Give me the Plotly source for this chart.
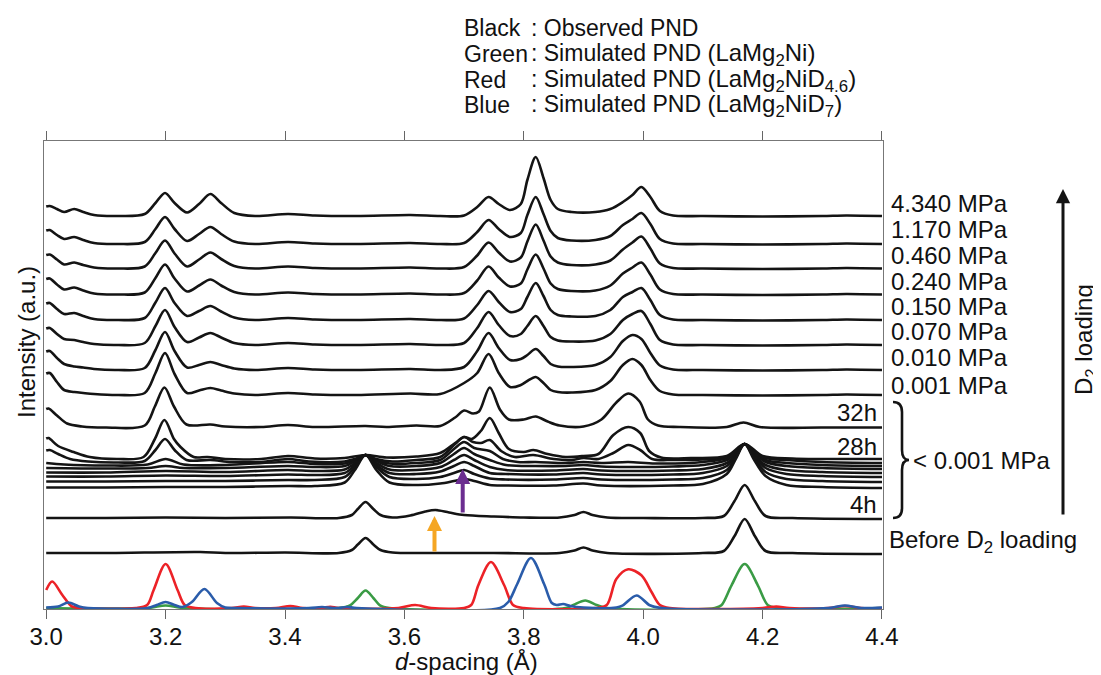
import plotly.graph_objects as go

# ---------------- data ----------------
# heights are in a.u. above each pattern's own baseline; offsets stack patterns
D_P = [3.000, 3.006, 3.018, 3.030, 3.047, 3.062, 3.08, 3.12, 3.165, 3.183, 3.199, 3.215,
       3.236, 3.256, 3.275, 3.293, 3.315, 3.35, 3.405, 3.45, 3.52, 3.61, 3.66, 3.70,
       3.722, 3.741, 3.758, 3.777, 3.795, 3.806, 3.820, 3.833, 3.845, 3.857, 3.88, 3.92,
       3.945, 3.966, 3.982, 3.997, 4.012, 4.028, 4.05, 4.10, 4.20, 4.30, 4.34, 4.40]

pressure_labels = ["4.340 MPa", "1.170 MPa", "0.460 MPa", "0.240 MPa",
                   "0.150 MPa", "0.070 MPa", "0.010 MPa", "0.001 MPa"]
pressure_offsets = [393, 365, 340.5, 314.5, 289, 264, 239, 214]
p_4340 = [9.5, 10, 7, 4, 7, 4, 1, 0, 2, 13, 23, 13, 3.5, 12, 22, 13, 3, 0, 2, 0.5, 0, 1, 0, 0.5,
          9, 19, 12, 6, 12, 36, 59, 38, 16, 7, 4, 4, 7, 14, 21, 29, 19, 5, 0.5, 0, -0.5, 0, 0.5, 0]
p_1170 = [13.5, 14, 9, 5, 7, 4, 1, 0, 2, 15, 27, 15, 3, 10, 17, 10, 2.5, 0, 2, 0.5, 0, 1, 0, 1,
          12, 24, 15, 7, 11, 29, 47, 30, 13, 6, 3.5, 4, 8, 19, 25, 31, 20, 5, 0.5, 0, -0.5, 0, 0.5, 0]
p_0460 = [13.5, 14, 9, 4, 6, 3.5, 1, 0, 2, 15.5, 28, 15, 2, 9, 16, 9.5, 2.5, 0, 2, 0.5, 0, 1, 0, 1.5,
          13, 26, 16, 7, 11, 27, 44, 28, 12, 6, 3.5, 4, 8, 19, 26, 32, 20, 5, 0.5, 0, -0.5, 0, 0.5, 0]
p_0240 = [15.5, 16, 10, 5, 7, 4, 1, 0, 2, 16.5, 30, 16, 3, 9, 15, 9, 2.5, 0, 2, 0.5, 0, 1, 0, 1.5,
          14, 28, 17, 8, 11, 25, 40, 26, 11, 5.5, 3.5, 4, 9, 21, 27, 32, 20, 5, 0.5, 0, -0.5, 0, 0.5, 0]
p_0150 = [16.5, 17, 11, 6, 7, 4, 1, 0, 2, 17.5, 32, 17, 4, 9, 14, 8.5, 2.5, 0, 2, 0.5, 0, 1, 0, 1.5,
          15, 29, 18, 8, 11, 23, 37, 24, 10, 5, 3.5, 4, 10, 23, 28, 32, 20, 5, 0.5, 0, -0.5, 0, 0.5, 0]
p_0070 = [16.5, 17, 11, 6, 5, 3, 1, 0, 2, 19, 35, 18, 3, 7.5, 12, 7.5, 2, 0, 2, 0.5, 0, 1, 0, 2,
          17, 33, 20, 9, 11, 19, 29, 19, 8, 4.5, 3.5, 4.5, 11, 25, 31, 34, 21, 5, 0.5, 0, -0.5, 0, 0.5, 0]
p_0010 = [18.5, 19, 12, 6, 3.5, 2.5, 1, 0, 2, 20, 38, 19, 2.5, 5, 8, 5, 1.5, 0, 2, 0.5, 0, 1, 0, 3,
          19, 37, 22, 10, 11, 15, 21, 14, 6, 3.5, 3, 5, 13, 29, 35, 31, 17, 4.5, 0.5, 0, -0.5, 0, 0.5, 0]
p_0001 = [21.5, 22, 13, 5, 3, 2, 1, 0, 2, 22, 42, 21, 2, 4.5, 7, 4.5, 1.5, 0, 2, 0.5, 0, 1.5, 1, 12,
          22, 41, 22, 8, 10, 14, 18, 12, 5, 3, 2.5, 5, 14, 30, 36, 30, 15, 4, 0.5, 0, -0.5, 0, 0.5, 0]
pressure_heights = [p_4340, p_1170, p_0460, p_0240, p_0150, p_0070, p_0010, p_0001]

# time series below 0.001 MPa: (d, height) pairs
t_32h = [(3.000, 18.5), (3.004, 19), (3.018, 12), (3.035, 4), (3.06, 1), (3.10, 0), (3.165, 2),
         (3.182, 21), (3.198, 40), (3.214, 21), (3.235, 3), (3.275, 3), (3.30, 1), (3.36, 0.5),
         (3.405, 2.5), (3.45, 0.5), (3.535, 1.5), (3.57, 0.5), (3.62, 2), (3.66, 1.5), (3.685, 10),
         (3.700, 17), (3.715, 14), (3.725, 16), (3.743, 40), (3.760, 18), (3.775, 8), (3.80, 8),
         (3.82, 11), (3.84, 6), (3.86, 2), (3.90, 1), (3.93, 8), (3.955, 25), (3.975, 34),
         (3.994, 26), (4.008, 8), (4.025, 2), (4.06, 0.5), (4.14, 0.5), (4.168, 5), (4.195, 0.5),
         (4.30, 0), (4.40, 0)]
t_28h = [(3.000, 20.5), (3.004, 21), (3.02, 13), (3.046, 7), (3.073, 2), (3.12, 0), (3.163, 2),
         (3.182, 20), (3.198, 39), (3.214, 20), (3.225, 12), (3.247, 2), (3.27, 2), (3.30, 0),
         (3.36, 0), (3.405, 3), (3.45, 0.5), (3.50, 1), (3.535, 4), (3.57, 1.5), (3.62, 2.5),
         (3.66, 6), (3.685, 16), (3.700, 22), (3.713, 20), (3.728, 28), (3.743, 41), (3.758, 26),
         (3.775, 10), (3.80, 7), (3.816, 9), (3.84, 5), (3.87, 2), (3.90, 3), (3.925, 5),
         (3.95, 24), (3.975, 32), (3.995, 26), (4.01, 8), (4.03, 1.5), (4.08, 1), (4.14, 3),
         (4.17, 15), (4.20, 3), (4.25, 0.5), (4.30, 0), (4.40, 0)]
t_b1 = [(3.000, 12.5), (3.006, 13), (3.02, 9), (3.04, 4), (3.07, 1.5), (3.12, 0.5), (3.165, 2),
        (3.183, 13), (3.199, 24), (3.215, 13), (3.235, 3), (3.275, 3), (3.31, 1), (3.36, 1),
        (3.405, 4), (3.44, 1.5), (3.50, 1.5), (3.517, 4), (3.535, 8), (3.553, 4), (3.58, 1.5),
        (3.62, 3), (3.66, 6), (3.685, 19), (3.700, 26), (3.715, 21), (3.728, 20), (3.743, 23),
        (3.762, 12), (3.785, 6), (3.816, 8), (3.85, 4), (3.88, 3), (3.90, 5), (3.925, 4),
        (3.95, 10), (3.975, 18), (3.995, 13), (4.015, 4), (4.05, 3), (4.10, 3.5), (4.14, 6),
        (4.155, 12), (4.170, 19), (4.185, 12), (4.205, 5), (4.24, 3), (4.30, 1), (4.40, 0)]
t_b2 = [(3.000, 3), (3.03, 1.5), (3.10, 0.5), (3.17, 1.5), (3.20, 7), (3.23, 1.5), (3.30, 1),
        (3.405, 4), (3.45, 2), (3.50, 2.5), (3.517, 6), (3.535, 11), (3.553, 6), (3.575, 2.5),
        (3.62, 3), (3.66, 6), (3.683, 17), (3.700, 24), (3.717, 18), (3.743, 15), (3.765, 7),
        (3.79, 4), (3.82, 4), (3.87, 3), (3.90, 4), (3.93, 3), (3.975, 4), (4.02, 2.5),
        (4.10, 4), (4.14, 8), (4.155, 15), (4.170, 22), (4.185, 15), (4.205, 6), (4.24, 3),
        (4.30, 1), (4.40, 0)]
t_b3 = [(3.000, 1), (3.10, 0.5), (3.17, 1), (3.20, 3), (3.23, 1), (3.30, 1), (3.405, 3),
        (3.45, 2), (3.50, 3), (3.517, 8), (3.535, 14), (3.553, 8), (3.575, 3), (3.62, 3),
        (3.66, 6), (3.683, 15), (3.700, 21), (3.717, 15), (3.743, 9), (3.77, 4), (3.82, 3),
        (3.87, 3), (3.90, 4), (3.93, 2.5), (3.975, 2), (4.05, 2.5), (4.10, 4), (4.14, 9),
        (4.155, 17), (4.170, 25), (4.185, 17), (4.205, 7), (4.24, 3), (4.30, 1), (4.40, 0)]
t_b4 = [(3.000, 0.5), (3.10, 0.5), (3.20, 2), (3.30, 1), (3.405, 3), (3.45, 2), (3.50, 3.5),
        (3.517, 10), (3.535, 18), (3.553, 10), (3.575, 3.5), (3.62, 3), (3.66, 6), (3.683, 13),
        (3.700, 18), (3.717, 13), (3.743, 6), (3.77, 3), (3.85, 2.5), (3.90, 4), (3.93, 2.5),
        (4.05, 2.5), (4.10, 4), (4.14, 10), (4.155, 19), (4.170, 29), (4.185, 19), (4.205, 8),
        (4.24, 3), (4.30, 1), (4.40, 0)]
t_b5 = [(3.000, 0.5), (3.10, 0.5), (3.20, 1.5), (3.30, 1), (3.405, 2.5), (3.45, 2), (3.50, 4),
        (3.517, 12), (3.535, 22), (3.553, 12), (3.575, 4), (3.62, 3), (3.66, 5.5), (3.683, 11),
        (3.700, 15), (3.717, 11), (3.743, 4), (3.77, 3), (3.85, 2.5), (3.90, 4), (3.93, 2.5),
        (4.05, 2.5), (4.10, 4), (4.14, 11), (4.155, 22), (4.170, 33), (4.185, 22), (4.205, 9),
        (4.24, 3), (4.30, 1), (4.40, 0)]
t_b6 = [(3.000, 0.5), (3.10, 0.5), (3.20, 1), (3.30, 1), (3.405, 2), (3.45, 2), (3.50, 5),
        (3.517, 15), (3.535, 27), (3.553, 15), (3.575, 5), (3.62, 3), (3.66, 5), (3.683, 9),
        (3.700, 12), (3.717, 8), (3.743, 3.5), (3.77, 2.5), (3.85, 2.5), (3.90, 4), (3.93, 2.5),
        (4.05, 2.5), (4.10, 4), (4.14, 12), (4.155, 25), (4.170, 38), (4.185, 25), (4.205, 10),
        (4.24, 3), (4.30, 1), (4.40, 0)]
t_b7 = [(3.000, 0.5), (3.10, 0.5), (3.20, 1), (3.30, 1), (3.405, 2), (3.45, 2), (3.50, 5.5),
        (3.517, 18), (3.535, 33), (3.553, 18), (3.575, 5.5), (3.62, 3), (3.66, 4.5), (3.683, 7),
        (3.700, 9), (3.717, 7), (3.743, 3), (3.77, 2.5), (3.85, 2.5), (3.90, 4.5), (3.93, 2.5),
        (4.05, 2.5), (4.10, 4), (4.14, 14), (4.155, 29), (4.170, 44), (4.185, 29), (4.205, 12),
        (4.24, 3), (4.30, 1), (4.40, 0)]
t_4h = [(3.0, 0), (3.10, 0), (3.20, 0.5), (3.30, 0), (3.41, 0.5), (3.49, 0), (3.512, 3),
        (3.522, 9), (3.535, 16), (3.548, 9), (3.56, 3), (3.58, 0.5), (3.61, 2.5), (3.635, 6.5),
        (3.652, 8), (3.675, 5.5), (3.70, 3), (3.75, 1.5), (3.80, 0.5), (3.86, 0.5), (3.885, 3),
        (3.90, 6), (3.915, 3), (3.94, 0.5), (4.00, 0), (4.10, 0), (4.135, 2), (4.153, 17),
        (4.170, 33), (4.187, 17), (4.205, 2), (4.25, 0), (4.40, -1)]
time_series = [t_32h, t_28h, t_b1, t_b2, t_b3, t_b4, t_b5, t_b6, t_b7, t_4h]
time_offsets = [181.5, 150, 146, 143, 140, 136, 132, 127, 121, 91]

before = [(3.0, 0), (3.10, 0), (3.258, 1), (3.30, 0), (3.40, 0.5), (3.49, 0), (3.512, 3),
          (3.522, 8.5), (3.535, 15), (3.548, 8.5), (3.56, 3), (3.58, 0.5), (3.65, 0), (3.75, 0),
          (3.86, 0), (3.885, 2.5), (3.90, 5.5), (3.915, 2.5), (3.94, 0), (4.10, 0), (4.135, 2),
          (4.153, 17), (4.170, 34), (4.187, 17), (4.205, 2), (4.25, 0), (4.40, -1)]
before_offset = 56

sim_offset = 1
sim_green = [(3.0, 0), (3.17, 0), (3.20, 2.5), (3.23, 0), (3.49, 0), (3.509, 2.7), (3.522, 10),
             (3.535, 17.5), (3.548, 10), (3.559, 2.7), (3.575, 0), (3.87, 0), (3.883, 3),
             (3.903, 7.5), (3.922, 3), (3.94, 0), (4.12, 0), (4.131, 2.7), (4.148, 22.7),
             (4.170, 44), (4.192, 22.7), (4.209, 2.7), (4.225, 0), (4.40, 0)]
sim_red = [(3.000, 18), (3.010, 26.5), (3.027, 13), (3.043, 1.5), (3.06, 0), (3.15, 0),
           (3.169, 3), (3.180, 18), (3.200, 44), (3.220, 18), (3.232, 3), (3.25, 0), (3.31, 0),
           (3.331, 1.5), (3.35, 0), (3.385, 0), (3.409, 2), (3.43, 0), (3.46, 0), (3.476, 1.2),
           (3.49, 0), (3.59, 0), (3.618, 3), (3.645, 0), (3.70, 0), (3.712, 3), (3.724, 23),
           (3.745, 46), (3.767, 23), (3.782, 3), (3.80, 0), (3.92, 0), (3.939, 3), (3.955, 29),
           (3.975, 38.7), (3.997, 32.7), (4.014, 16), (4.028, 3), (4.045, 0), (4.20, 0),
           (4.223, 1.5), (4.245, 0), (4.31, 0), (4.338, 2), (4.365, 0), (4.40, 0)]
sim_blue = [(3.000, 0.5), (3.02, 1.5), (3.037, 5.5), (3.055, 1.5), (3.07, 0), (3.17, 0),
            (3.185, 3), (3.20, 6), (3.215, 3), (3.228, 1), (3.244, 6), (3.265, 19), (3.286, 5),
            (3.30, 0.5), (3.32, 0), (3.44, 0), (3.462, 1), (3.48, 0), (3.49, 0), (3.504, 1),
            (3.52, 0), (3.76, 0), (3.774, 6), (3.789, 24), (3.812, 50), (3.834, 24), (3.847, 5),
            (3.855, 3), (3.866, 4), (3.878, 2), (3.90, 0.5), (3.955, 0.5), (3.966, 2.7),
            (3.989, 12.5), (4.011, 2.7), (4.03, 0), (4.31, 0), (4.338, 2.5), (4.365, 0),
            (4.40, 0.5)]

x_ticks = [3.0, 3.2, 3.4, 3.6, 3.8, 4.0, 4.2, 4.4]

# ---------------- figure ----------------
# page body adds an 8 px margin, so the figure is 8 px smaller and all
# window-pixel positions below are shifted by SHIFT
SHIFT = 8
W, H = 1101 - SHIFT, 675 - SHIFT
ML, MR, MT, MB = 44 - SHIFT, 218, 141 - SHIFT, 66
PW, PH = W - ML - MR, H - MT - MB
FONT = "Liberation Sans, Arial, Helvetica, sans-serif"
BLACK = "#141414"

def px(x):
    return (x - SHIFT - ML) / PW

def py(y):
    return (H - MB - (y - SHIFT)) / PH

fig = go.Figure()

def add_curve(xs, ys, color, width=2.6):
    fig.add_trace(go.Scatter(x=xs, y=ys, mode="lines",
                             line=dict(color=color, width=width, shape="spline", smoothing=0.9),
                             hoverinfo="skip", showlegend=False))

# simulated
for pts, col in [(sim_green, "#3a9b45"), (sim_red, "#ec2227"), (sim_blue, "#2a5caa")]:
    add_curve([p[0] for p in pts], [sim_offset + p[1] for p in pts], col, 2.6)

add_curve([p[0] for p in before], [before_offset + p[1] for p in before], BLACK)
for pts, off in zip(time_series, time_offsets):
    add_curve([p[0] for p in pts], [off + p[1] for p in pts], BLACK)
for hs, off in zip(pressure_heights, pressure_offsets):
    add_curve(D_P, [off + h for h in hs], BLACK)

fig.update_layout(
    width=W, height=H, margin=dict(l=ML, r=MR, t=MT, b=MB, autoexpand=False),
    paper_bgcolor="white", plot_bgcolor="white",
    font=dict(family=FONT, color="#111", size=24),
    xaxis=dict(range=[2.9963, 4.4017], tickvals=x_ticks,
               ticktext=["%.1f" % v for v in x_ticks],
               ticks="outside", ticklen=9, tickwidth=1.2, tickcolor="#666",
               showline=True, linecolor="#777", linewidth=1.3, mirror="ticks",
               showgrid=False, zeroline=False, tickfont=dict(size=24, family=FONT)),
    yaxis=dict(range=[0, PH], showticklabels=False, ticks="", showline=True,
               linecolor="#777", linewidth=1.3, mirror=True, showgrid=False, zeroline=False),
)
try:
    fig.update_xaxes(ticklabelstandoff=-3)
except Exception:
    pass

ann = []
def text(x, y, s, size=24, xanchor="left", angle=0):
    ann.append(dict(x=px(x), y=py(y), xref="paper", yref="paper", text=s, showarrow=False,
                    xanchor=xanchor, yanchor="middle", textangle=angle,
                    font=dict(size=size, family=FONT, color="#111")))

# legend block
BIG = '<span style="font-size:24px">%s</span>'
legend_rows = [("Black", ": Observed PND"),
               ("Green", ": Simulated PND " + BIG % "(LaMg<sub>2</sub>Ni)"),
               ("Red", ": Simulated PND " + BIG % "(LaMg<sub>2</sub>NiD<sub>4.6</sub>)"),
               ("Blue", ": Simulated PND " + BIG % "(LaMg<sub>2</sub>NiD<sub>7</sub>)")]
for (a, b), yy in zip(legend_rows, [28, 54, 80, 105]):
    text(462, yy, a, 23)
    text(529, yy, b, 23)

for lab, yy in zip(pressure_labels, [203, 229, 255, 281, 306, 331, 357, 385]):
    text(889, yy, lab, 24)

text(879, 413, "32h", 24, "right")
text(879, 446, "28h", 24, "right")
text(879, 504, "4h", 24, "right")
text(911, 460, "&lt; 0.001 MPa", 24)
text(887, 541, "Before D<sub>2</sub> loading", 24)
text(1085, 340, "D<sub>2</sub> loading", 24, "center", -90)
text(26, 342, "Intensity (a.u.)", 24, "center", -90)
text(466, 661, "<i>d</i>-spacing (Å)", 24, "center")

# arrows (tip at x, y_tip; tail offset in pixels)
def arrow(x, y_tail, y_tip, color, w, size):
    ann.append(dict(x=px(x), y=py(y_tip), xref="paper", yref="paper",
                    ax=0, ay=y_tail - y_tip, axref="pixel", ayref="pixel",
                    text="", showarrow=True, arrowhead=2, arrowsize=size,
                    arrowwidth=w, arrowcolor=color, standoff=0))

arrow(1063, 516, 189, BLACK, 3, 0.95)
arrow(462.7, 514, 469, "#6b2d90", 4, 0.75)
arrow(434.5, 553, 516, "#f5a623", 4, 0.75)

fig.update_layout(annotations=ann)

# bracket
bx, top, bot, mid = 893, 402, 518, 460
path = (f"M {px(bx)},{py(top)} Q {px(bx+9)},{py(top)} {px(bx+9)},{py(top+10)} "
        f"L {px(bx+9)},{py(mid-10)} Q {px(bx+9)},{py(mid)} {px(bx+16)},{py(mid)} "
        f"Q {px(bx+9)},{py(mid)} {px(bx+9)},{py(mid+10)} "
        f"L {px(bx+9)},{py(bot-10)} Q {px(bx+9)},{py(bot)} {px(bx)},{py(bot)}")
fig.add_shape(type="path", path=path, xref="paper", yref="paper",
              line=dict(color=BLACK, width=2.6))

fig.write_html("out.html")
